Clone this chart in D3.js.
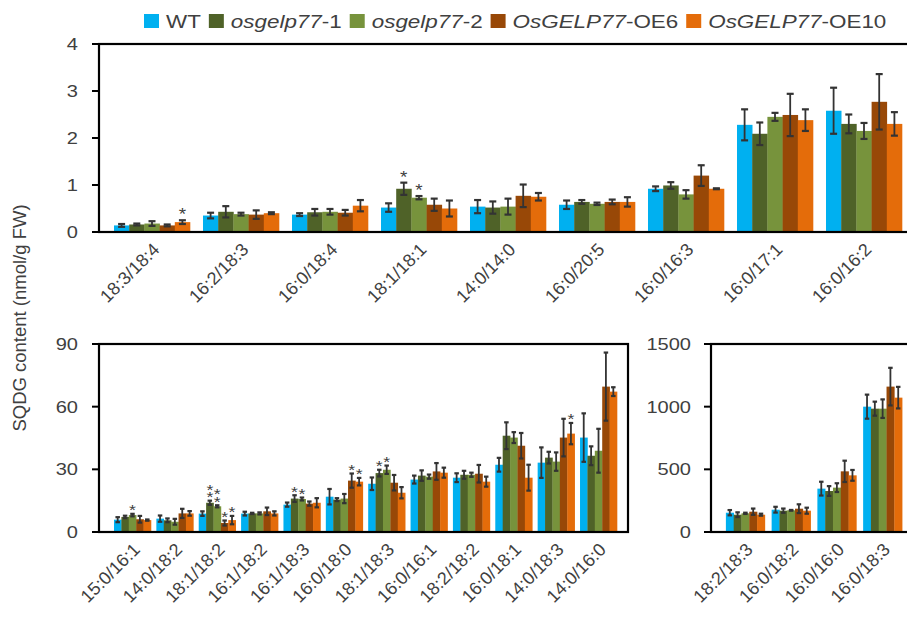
<!DOCTYPE html>
<html>
<head>
<meta charset="utf-8">
<script src="https://cdn.jsdelivr.net/npm/d3@7"></script>
<style>
  body { margin: 0; background: #fff; }
  svg { display: block; }
  text { font-family: "Liberation Sans", Arial, sans-serif; fill: #404040; }
</style>
</head>
<body>
<svg id="chart" width="907" height="625"></svg>
<script>
// Genotypes shown in every panel
const seriesNames = ["WT", "osgelp77-1", "osgelp77-2", "OsGELP77-OE6", "OsGELP77-OE10"];
const seriesColors = ["#00B0F0", "#4F6228", "#77933C", "#984807", "#E46C0A"];

// Upper panel: minor molecular species (nmol/g FW)
const topCategories = ["18:3/18:4", "16:2/18:3", "16:0/18:4", "18:1/18:1", "14:0/14:0", "16:0/20:5", "16:0/16:3", "16:0/17:1", "16:0/16:2"];
const topMeans = [
  [0.14, 0.35, 0.37, 0.52, 0.54, 0.58, 0.92, 2.28, 2.58],
  [0.16, 0.43, 0.42, 0.92, 0.52, 0.64, 0.99, 2.09, 2.30],
  [0.18, 0.38, 0.43, 0.73, 0.54, 0.60, 0.80, 2.45, 2.15],
  [0.14, 0.37, 0.41, 0.58, 0.77, 0.64, 1.20, 2.49, 2.77],
  [0.21, 0.40, 0.56, 0.50, 0.75, 0.64, 0.92, 2.38, 2.30]
];
const topErrors = [
  [0.03, 0.06, 0.03, 0.09, 0.14, 0.09, 0.05, 0.33, 0.49],
  [0.02, 0.12, 0.07, 0.13, 0.13, 0.04, 0.07, 0.24, 0.20],
  [0.05, 0.03, 0.06, 0.035, 0.17, 0.025, 0.09, 0.085, 0.17],
  [0.02, 0.09, 0.06, 0.13, 0.24, 0.05, 0.22, 0.45, 0.59],
  [0.04, 0.02, 0.12, 0.17, 0.08, 0.10, 0.01, 0.23, 0.25]
];
// number of asterisks above each bar
const topStars = [
  [0, 0, 0, 0, 0, 0, 0, 0, 0],
  [0, 0, 0, 1, 0, 0, 0, 0, 0],
  [0, 0, 0, 1, 0, 0, 0, 0, 0],
  [0, 0, 0, 0, 0, 0, 0, 0, 0],
  [1, 0, 0, 0, 0, 0, 0, 0, 0]
];
const topTicks = [0, 1, 2, 3, 4];

// Lower-left panel: intermediate species
const midCategories = ["15:0/16:1", "14:0/18:2", "18:1/18:2", "16:1/18:2", "16:1/18:3", "16:0/18:0", "18:1/18:3", "16:0/16:1", "18:2/18:2", "16:0/18:1", "14:0/18:3", "14:0/16:0"];
const midMeans = [
  [5.9, 6.4, 8.8, 8.8, 13.1, 16.9, 23.1, 25.1, 26.0, 32.2, 33.2, 45.2],
  [7.2, 5.6, 14.0, 8.9, 16.0, 15.5, 28.2, 27.0, 27.4, 46.1, 35.6, 36.5],
  [8.1, 4.9, 12.3, 8.9, 15.8, 16.0, 29.8, 26.5, 27.4, 45.2, 33.7, 38.9],
  [6.1, 8.9, 4.3, 9.9, 13.6, 24.6, 23.6, 29.0, 27.9, 41.3, 45.2, 69.6],
  [5.7, 8.9, 5.7, 8.9, 14.0, 24.1, 18.8, 28.4, 24.1, 26.0, 47.1, 67.2]
];
const midErrors = [
  [1.2, 1.5, 1.1, 0.9, 1.0, 3.7, 3.0, 1.9, 2.1, 3.3, 7.3, 11.6],
  [0.6, 0.9, 1.0, 0.3, 1.6, 0.7, 1.6, 2.5, 1.9, 6.4, 2.8, 4.5],
  [0.6, 1.4, 0.5, 0.5, 0.7, 2.2, 2.0, 1.0, 1.0, 2.6, 4.4, 10.5],
  [1.6, 2.2, 1.2, 1.8, 1.0, 3.4, 3.7, 4.0, 4.2, 6.1, 9.0, 16.3],
  [0.3, 1.1, 2.0, 1.0, 2.2, 1.8, 2.7, 2.4, 2.4, 6.2, 5.1, 2.1]
];
const midStars = [
  [0, 0, 0, 0, 0, 0, 0, 0, 0, 0, 0, 0],
  [0, 0, 2, 0, 1, 0, 1, 0, 0, 0, 0, 0],
  [1, 0, 2, 0, 1, 0, 1, 0, 0, 0, 0, 0],
  [0, 0, 1, 0, 0, 1, 0, 0, 0, 0, 0, 0],
  [0, 0, 1, 0, 0, 1, 0, 0, 0, 0, 1, 0]
];
const midTicks = [0, 30, 60, 90];

// Lower-right panel: major species
const majorCategories = ["18:2/18:3", "16:0/18:2", "16:0/16:0", "16:0/18:3"];
const majorMeans = [
  [154, 178, 346, 1000],
  [138, 170, 327, 984],
  [149, 173, 354, 984],
  [162, 186, 484, 1160],
  [138, 170, 452, 1072]
];
const majorErrors = [
  [21, 23, 55, 96],
  [19, 17, 39, 56],
  [5, 3, 35, 74],
  [25, 35, 85, 150],
  [8, 24, 43, 86]
];
const majorStars = [
  [0, 0, 0, 0], [0, 0, 0, 0], [0, 0, 0, 0], [0, 0, 0, 0], [0, 0, 0, 0]
];
const majorTicks = [0, 500, 1000, 1500];

const svg = d3.select("#chart");
const TX = 1.18;         // horizontal text stretch used for upright text
const barStroke = "#333";

function stretchedText(parent, x, y, str, size, anchor) {
  return parent.append("text")
    .attr("transform", `translate(${x},${y}) scale(${TX},1)`)
    .attr("text-anchor", anchor)
    .attr("font-size", size)
    .text(str);
}

const panels = [
  { cats: topCategories, means: topMeans, errs: topErrors, stars: topStars, ticks: topTicks,
    yMax: 4, xRange: [107.5, 908.5], padIn: 0.146, axisX: 99, right: 940, yRange: [232, 44],
    tickLabelX: 78, cap: 7, catY: 246, starGap: 0, starSize: 16, starStep: 7.5 },
  { cats: midCategories, means: midMeans, errs: midErrors, stars: midStars, ticks: midTicks,
    yMax: 90, xRange: [111.3, 619.7], padIn: 0.127, axisX: 99, right: 628, yRange: [532, 344],
    tickLabelX: 78, cap: 4.5, catY: 546, starGap: 1.5, starSize: 15, starStep: 7.5 },
  { cats: majorCategories, means: majorMeans, errs: majorErrors, stars: majorStars, ticks: majorTicks,
    yMax: 1500, xRange: [722.5, 905.5], padIn: 0.148, axisX: 711, right: 940, yRange: [532, 344],
    tickLabelX: 691, cap: 4.5, catY: 546, starGap: 1.5, starSize: 15, starStep: 7.5 }
];

panels.forEach(p => {
  const g = svg.append("g");
  const x = d3.scaleBand().domain(p.cats).range(p.xRange).paddingInner(p.padIn).paddingOuter(p.padIn / 2);
  const xs = d3.scaleBand().domain(seriesNames).range([0, x.bandwidth()]);
  const y = d3.scaleLinear().domain([0, p.yMax]).range(p.yRange);

  // bars
  seriesNames.forEach((s, si) => {
    g.append("g").selectAll("rect").data(p.cats).join("rect")
      .attr("x", c => x(c) + xs(s))
      .attr("y", (c, ci) => y(p.means[si][ci]))
      .attr("width", xs.bandwidth() + 0.3)
      .attr("height", (c, ci) => y(0) - y(p.means[si][ci]))
      .attr("fill", seriesColors[si]);
  });

  // error bars and significance marks
  seriesNames.forEach((s, si) => {
    p.cats.forEach((c, ci) => {
      const cx = x(c) + xs(s) + xs.bandwidth() / 2;
      const m = p.means[si][ci], e = p.errs[si][ci];
      const y1 = y(m + e), y0 = y(m - e);
      g.append("line").attr("x1", cx).attr("x2", cx).attr("y1", y1).attr("y2", y0)
        .attr("stroke", barStroke).attr("stroke-width", 1.8);
      [y1, y0].forEach(yy => g.append("line")
        .attr("x1", cx - p.cap / 2).attr("x2", cx + p.cap / 2).attr("y1", yy).attr("y2", yy)
        .attr("stroke", barStroke).attr("stroke-width", 2.2));
      const n = p.stars[si][ci];
      if (n > 0) {
        const t = stretchedText(g, cx, y1 + p.starGap - (n - 1) * p.starStep, "", p.starSize, "middle");
        for (let k = 0; k < n; k++) {
          t.append("tspan").attr("x", 0).attr("dy", k === 0 ? 0 : p.starStep).text("*");
        }
      }
    });
  });

  // frame
  g.append("rect").attr("x", p.axisX).attr("y", p.yRange[1])
    .attr("width", p.right - p.axisX).attr("height", p.yRange[0] - p.yRange[1])
    .attr("fill", "none").attr("stroke", "#000").attr("stroke-width", 2.2);

  // y ticks
  p.ticks.forEach(t => {
    g.append("line").attr("x1", p.axisX - 7).attr("x2", p.axisX).attr("y1", y(t)).attr("y2", y(t))
      .attr("stroke", "#000").attr("stroke-width", 2);
    stretchedText(g, p.tickLabelX, y(t), d3.format("d")(t), 17, "end").attr("dy", "0.36em");
  });

  // category labels, rotated 45 degrees
  p.cats.forEach(c => {
    g.append("text")
      .attr("transform", `translate(${x(c) + x.bandwidth() / 2 + 4},${p.catY}) rotate(-45)`)
      .attr("text-anchor", "end")
      .attr("dy", "0.36em")
      .attr("font-size", 18)
      .text(c);
  });
});

// shared y-axis title
svg.append("text")
  .attr("transform", "translate(19,318) rotate(-90)")
  .attr("text-anchor", "middle")
  .attr("dy", "0.36em")
  .attr("font-size", 18.5)
  .text("SQDG content (nmol/g FW)");

// legend
const legend = svg.append("g");
let lx = 144;
seriesNames.forEach((s, i) => {
  legend.append("rect").attr("x", lx).attr("y", 14).attr("width", 15).attr("height", 14).attr("fill", seriesColors[i]);
  const idx = s.indexOf("77");
  const t = legend.append("text")
    .attr("transform", `translate(${lx + 22},28) scale(${TX},1)`)
    .attr("font-size", 19);
  if (idx >= 0) {
    t.append("tspan").attr("font-style", "italic").text(s.slice(0, idx + 2));
    t.append("tspan").text(s.slice(idx + 2));
  } else {
    t.text(s);
  }
  lx += 22 + t.node().getComputedTextLength() * TX + 8;
});
</script>
</body>
</html>
